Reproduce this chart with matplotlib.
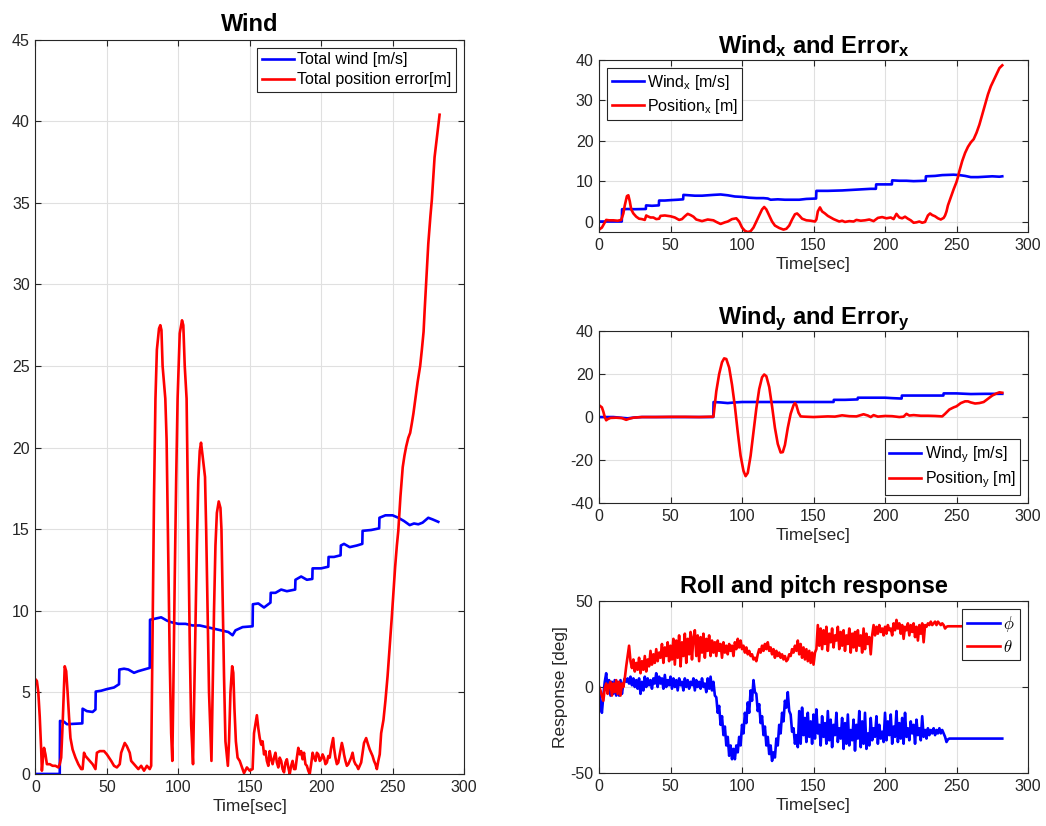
import numpy as np
import matplotlib
matplotlib.use("Agg")
import matplotlib.pyplot as plt
from matplotlib.font_manager import FontProperties

plt.rcParams['font.family'] = ['Liberation Sans', 'DejaVu Sans']
plt.rcParams['mathtext.fontset'] = 'custom'
plt.rcParams['mathtext.rm'] = 'Liberation Sans'
plt.rcParams['mathtext.it'] = 'Liberation Sans:italic'
plt.rcParams['mathtext.bf'] = 'Liberation Sans:bold'
plt.rcParams['axes.unicode_minus'] = False

# ---- data (time [s], value) ----
wind_total = np.array([
    (0, 0), (17, 0), (17.2, 3.25), (20, 3.2), (22, 3.05), (32.8, 3.1), (33, 4.0), (36, 3.85),
    (40, 3.8), (42, 3.95), (42.2, 5.05), (46, 5.1), (50, 5.2), (55, 5.3), (58.5, 5.5), (58.7, 6.4),
    (62, 6.45), (65, 6.4), (69, 6.2), (72, 6.3), (76, 6.4), (80, 6.5), (80.2, 9.45), (83, 9.5),
    (88, 9.6), (92, 9.4), (95, 9.3), (100, 9.2), (105, 9.2), (110, 9.1), (115, 9.1), (120, 9.0),
    (125, 8.9), (130, 8.8), (135, 8.7), (138, 8.5), (140, 8.8), (145, 9.0), (152, 9.05),
    (152.2, 10.4), (156, 10.45), (160, 10.2), (164.5, 10.5), (164.7, 11.1), (168, 11.1),
    (172, 11.3), (176, 11.2), (181.8, 11.3), (182, 11.9), (186, 12.1), (190, 11.9), (193.8, 11.95),
    (194, 12.6), (200, 12.6), (205, 12.7), (205.2, 13.3), (209, 13.3), (213.6, 13.4), (213.8, 14.0),
    (216, 14.1), (220, 13.9), (225, 14.0), (228.8, 14.1), (229, 14.9), (235, 14.95), (240.6, 15.05),
    (240.8, 15.7), (245, 15.85), (250, 15.85), (254, 15.7), (258, 15.5), (262, 15.25), (265, 15.35),
    (268, 15.3), (271, 15.4), (275, 15.7), (278, 15.6), (282, 15.45)])

error_total = np.array([
    (0, 5.8), (1, 5.7), (2, 5.0), (3, 3.5), (4, 1.5), (4.5, 0.2), (5.3, 1.0), (6, 1.6), (7, 1.2),
    (8, 0.6), (10, 0.6), (12, 0.5), (14, 0.5), (16, 0.4), (17, 0.6), (18, 1.0), (19, 3.0), (20, 5.5),
    (20.5, 6.6), (21.5, 6.3), (22.5, 5.0), (23.5, 3.5), (24.5, 2.2), (26, 1.5), (28, 1.0), (30, 0.6),
    (32, 0.3), (33, 0.3), (34, 1.3), (35, 1.1), (37, 0.9), (40, 0.6), (42, 0.3), (43, 1.3), (45, 1.4),
    (48, 1.4), (50, 1.2), (53, 0.8), (55, 0.5), (57, 0.4), (59, 0.6), (60, 1.3), (62.5, 1.9), (64, 1.7),
    (66, 1.3), (67, 0.8), (70, 0.5), (72, 0.3), (74, 0.5), (76, 0.2), (78, 0.5), (80, 0.3), (81, 0.5),
    (82, 9), (83, 17), (84, 23), (85, 26), (86.5, 27.3), (87.4, 27.5), (88.2, 27.2), (89, 25),
    (90.9, 23), (91.8, 20.5), (93, 13), (94, 7), (95, 2.5), (95.8, 0.8), (96.5, 5), (97.5, 12),
    (98.5, 18), (99.5, 23), (101, 27), (102.6, 27.8), (103.5, 27.5), (104.5, 25), (105.8, 23),
    (107, 15), (108, 8), (109, 3), (110.3, 0.6), (111, 4), (112, 9), (113, 14), (114, 18), (115, 19.8),
    (115.9, 20.3), (117, 19.5), (118.7, 18.2), (119.5, 15), (120.5, 10), (121.5, 5), (123.2, 0.8),
    (124, 5), (125, 10), (126, 14), (127, 16), (128.3, 16.7), (129.5, 16.3), (130.2, 15), (131, 11),
    (132, 6), (133, 2), (134.7, 0.5), (135.5, 2), (136.5, 5), (137.7, 6.6), (138.5, 6.2), (139.3, 4),
    (140.3, 2), (141.5, 1), (143, 0.8), (145, 0.3), (146, 0.05), (148, 0.4), (150, 0.2), (152, 0.3),
    (153, 2.5), (155, 3.6), (156, 2.8), (157, 2.2), (158, 1.8), (159, 2.0), (160, 1.2), (161, 1.4),
    (162, 0.8), (163, 0.5), (164, 1.4), (165, 0.9), (166, 0.6), (167, 1.0), (168, 1.3), (169, 0.7),
    (170, 0.4), (171, 1.0), (172, 0.8), (173, 0.3), (174, 0.1), (175, 0.7), (176, 0.9), (177, 0.4),
    (178, 0.0), (179, 0.5), (180, 0.8), (181, 0.3), (182, 0.3), (183, 1.0), (184, 1.6), (185, 1.2),
    (186, 1.4), (187, 0.9), (188, 1.3), (189, 0.6), (190, 0.5), (191, 0.2), (192, 0.0), (193, 0.6),
    (194, 1.3), (195, 1.0), (196, 0.8), (197, 1.3), (198, 1.2), (199, 0.8), (200, 0.9), (201, 1.2),
    (202, 1.0), (203, 0.6), (204, 0.7), (205, 1.1), (206, 1.0), (207, 1.6), (208.4, 2.2), (209, 1.6),
    (210, 1.0), (211, 0.6), (212, 0.7), (213, 1.2), (214.5, 1.9), (215.5, 1.5), (216, 1.2), (217, 0.8),
    (218, 0.5), (219, 0.6), (220, 0.8), (221, 1.0), (222, 1.3), (223, 0.8), (224, 0.6), (225, 0.5),
    (226, 0.3), (227, 0.5), (228, 0.7), (229, 1.3), (230, 1.9), (231.5, 2.2), (232.5, 1.9), (234, 1.5),
    (235, 1.3), (236, 1.1), (237, 0.8), (238, 0.6), (239, 0.3), (240, 0.8), (241, 1.2), (242, 2.5),
    (243.6, 3.3), (245, 4.5), (246.5, 6), (247, 6.6), (248, 7.8), (249.4, 9.55), (250.5, 11),
    (251.8, 12.7), (253, 14), (254, 14.9), (255.5, 17), (257.1, 18.8), (258.3, 19.5), (259.5, 20.06),
    (261, 20.6), (262.3, 20.9), (263.5, 21.5), (264.6, 22.1), (265.8, 22.9), (267.5, 24), (269.3, 25),
    (270.5, 26), (271.7, 27.1), (272.5, 28.5), (273.5, 30.1), (275, 32.5), (276.5, 34.2),
    (277.5, 35.2), (278.5, 36.6), (279.4, 37.8), (281, 39), (282.9, 40.4)])

wind_x = np.array([
    (0, 0), (15.9, 0), (16.1, 3.05), (20, 3.1), (25, 3.05), (32.7, 3.1), (32.9, 4.0), (37, 3.9),
    (41.8, 4.0), (42, 5.2), (46, 5.2), (50, 5.3), (55, 5.4), (58.8, 5.5), (59, 6.6), (63, 6.5),
    (67, 6.4), (72, 6.4), (76, 6.5), (80, 6.6), (85, 6.7), (90, 6.5), (95, 6.2), (100, 6.1),
    (105, 5.9), (110, 5.8), (115, 5.8), (118, 5.7), (120, 5.4), (125, 5.5), (130, 5.4), (140, 5.4),
    (145, 5.6), (151.8, 5.7), (152, 7.6), (160, 7.6), (170, 7.7), (180, 7.9), (190, 8.1),
    (193.6, 8.1), (193.8, 9.2), (200, 9.2), (204.8, 9.2), (205, 10.2), (210, 10.1), (215, 10.1),
    (220, 10.0), (228.4, 10.1), (228.6, 11.2), (235, 11.3), (240, 11.5), (248, 11.6), (252, 11.5),
    (256, 11.3), (260, 11.0), (265, 11.0), (270, 11.1), (275, 11.2), (280, 11.1), (282, 11.2)])

error_x = np.array([
    (0, -2.0), (2, -1.5), (4, -0.2), (5, 0.4), (7, 0.3), (10, 0.3), (13, 0.2), (15.5, 0.4), (17, 2.0),
    (18, 4.0), (19.5, 6.3), (20.5, 6.5), (21.5, 5.0), (22.5, 3.0), (24, 2.0), (26, 1.2), (28, 0.7),
    (30, 0.6), (32, 0.4), (33, 1.5), (34, 1.3), (36, 1.0), (38, 1.0), (40, 0.6), (42, 0.7), (43, 1.4),
    (46, 1.5), (50, 1.3), (53, 1.0), (56, 0.4), (58, 0.6), (60, 1.3), (62, 1.9), (64, 1.6), (66, 1.2),
    (68, 0.5), (72, 0.1), (76, 0.5), (80, 0.3), (82, -0.1), (85, -0.6), (88, -0.2), (90, 0.0),
    (93, 0.6), (96, 0.8), (98, 0.0), (100, -1.5), (102, -2.3), (104, -2.6), (106, -2.4), (108, -1.5),
    (110, 0.0), (112, 1.5), (114, 3.0), (115.5, 3.6), (117, 3.0), (119, 1.5), (121, 0.0), (123, -1.0),
    (126, -1.6), (129, -2.0), (131, -1.8), (133, -1.0), (135, 0.5), (137, 1.8), (138.5, 2.0),
    (140, 1.5), (142, 0.7), (145, 0.3), (148, 0.2), (151, 0.0), (152, 0.5), (153, 2.5), (154.5, 3.5),
    (156, 2.5), (158, 2.0), (160, 1.4), (162, 1.0), (164, 0.6), (166, 0.3), (168, 0.0), (170, 0.2),
    (172, -0.1), (175, 0.1), (178, 0.0), (180, 0.4), (183, 0.2), (186, 0.3), (189, 0.5), (192, 0.1),
    (195, 0.9), (198, 1.1), (201, 0.8), (204, 1.0), (206, 0.6), (208, 1.9), (210, 1.0), (212, 0.8),
    (214, 1.2), (216, 0.7), (218, 0.3), (220, -0.3), (222, -0.2), (224, 0.0), (226, -0.3),
    (228, -0.1), (230, 1.5), (231.5, 2.0), (233, 1.6), (235, 1.3), (237, 0.8), (239, 0.5), (241, 0.9),
    (242, 1.5), (243, 2.5), (244, 4.0), (246, 6.0), (248, 8.0), (250, 9.8), (251, 11), (252, 12.5),
    (254, 15), (256, 17), (258, 18.5), (260, 19.6), (262, 20.4), (264, 22), (266, 24), (268, 26.5),
    (270, 29), (272, 31.5), (274, 33.5), (276, 35), (278, 36.5), (280, 38), (282, 38.7)])

wind_y = np.array([
    (0, 0), (10, 0), (15, -0.3), (20, -0.6), (25, -0.2), (30, 0), (79.9, 0), (80.1, 7.0), (85, 6.8),
    (90, 6.5), (95, 6.8), (100, 7.0), (130, 7.0), (164, 7.0), (164.2, 8.0), (172, 8.0), (180.8, 8.2),
    (181, 9.0), (190, 9.0), (200, 9.0), (205, 8.8), (211.6, 8.6), (211.8, 10.0), (225, 10.0),
    (240.8, 10.0), (241, 11.0), (250, 11.0), (260, 10.7), (270, 10.8), (282, 10.8)])

error_y = np.array([
    (0, 5.5), (2, 4.5), (3, 2.5), (4, 0), (5, -1.5), (6, -1.0), (8, -0.4), (12, -0.3), (16, -0.5),
    (19, -1.3), (21, -0.8), (24, -0.3), (30, 0.0), (40, 0.0), (50, 0.1), (60, 0.1), (70, 0.0),
    (80, 0.2), (81, 6), (82, 12), (84, 20), (86, 25.5), (87.5, 27.3), (89, 27), (91, 23), (93, 15),
    (95, 5), (97, -7), (99, -18), (101, -25), (102.5, -27.5), (104, -26), (106, -18), (108, -7),
    (110, 4), (112, 13), (114, 18.5), (115.5, 19.8), (117, 19), (119, 14), (121, 5), (123, -5),
    (125, -12.5), (127, -16.5), (128.5, -16.3), (130, -13), (132, -5), (134, 1.5), (136, 5.5),
    (137, 6.5), (138, 5.5), (139.5, 2), (141, 0.3), (143, 0.2), (150, 0.0), (160, 0.3), (165, 0.2),
    (170, 0.8), (175, 0.4), (180, 0.3), (185, 1.3), (188, 0.7), (190, 0.0), (192, 0.9), (195, 0.2),
    (200, 0.5), (205, 0.4), (210, 0.0), (213, 0.2), (215, 1.5), (217, 0.7), (220, 0.9), (225, 0.6),
    (230, 0.6), (235, 0.5), (240, 0.3), (242, 1.5), (245, 3.5), (248, 4.5), (250, 5.0), (253, 6.5),
    (256, 7.3), (258, 7.3), (260, 6.8), (263, 6.3), (266, 6.5), (269, 7.0), (272, 8.5), (275, 10.0),
    (278, 11.0), (280, 11.5), (282, 11.3)])

# roll / pitch sampled every second up to 245 s, then held to 282 s
t_att = list(range(246)) + [282]
theta = [0, -2, -5, -8, -1, 2, -4, 1, 3, -5,
         2, -3, 4, -4, 3, -5, 2, 0, 5, 12,
         18, 24, 15, 11, 16, 9, 14, 10, 17, 8,
         15, 10, 18, 9, 16, 12, 21, 13, 19, 14,
         22, 15, 20, 17, 25, 14, 23, 18, 26, 15,
         24, 16, 28, 13, 27, 17, 30, 12, 26, 18,
         31, 14, 28, 19, 32, 16, 29, 33, 18, 30,
         15, 29, 20, 31, 17, 28, 21, 30, 18, 27,
         20, 26, 18, 27, 21, 25, 17, 26, 20, 24,
         19, 25, 21, 24, 18, 26, 22, 28, 23, 27,
         22, 24, 20, 23, 19, 21, 18, 19, 16, 17,
         15, 19, 22, 20, 24, 21, 25, 22, 26, 21,
         23, 19, 22, 17, 21, 18, 20, 17, 19, 16,
         18, 15, 16, 19, 18, 22, 20, 24, 21, 27,
         19, 25, 17, 23, 16, 22, 15, 21, 14, 20,
         13, 20, 22, 36, 24, 34, 22, 33, 25, 35,
         21, 31, 26, 34, 23, 30, 27, 35, 22, 32,
         24, 33, 21, 30, 25, 34, 20, 31, 23, 32,
         21, 33, 24, 30, 20, 34, 22, 31, 25, 29,
         19, 30, 36, 30, 35, 31, 36, 32, 34, 30,
         35, 31, 36, 33, 34, 30, 37, 33, 39, 34,
         37, 31, 36, 28, 35, 33, 37, 30, 36, 32,
         37, 29, 35, 27, 36, 31, 37, 26, 36, 35,
         37, 36, 38, 36, 37, 38, 36, 38, 37, 36,
         37, 36, 34, 35, 35.3, 35.3, 35.3]
phi = [0, -10, -15, -5, 3, 8, -2, 4, -5, 3,
       -4, 4, -5, 3, -5, 4, -4, 2, 5, 3,
       5, 2, 6, 1, 5, 0, 4, -1, 5, -4,
       3, -2, 6, 0, 5, 1, 4, -1, 5, 2,
       8, 0, 6, 2, 5, -1, 7, 0, 4, 1,
       6, -1, 5, 0, 4, -2, 5, 1, 3, -2,
       5, 0, 4, -1, 3, 1, 5, -2, 4, 0,
       3, -1, 5, 0, 2, -3, 5, -1, 6, -2,
       3, -5, -6, -15, -11, -22, -17, -28, -23, -34,
       -29, -40, -34, -42, -36, -42, -34, -38, -29, -34,
       -22, -27, -15, -21, -9, -15, -2, -8, 4, -3,
       -4, -14, -10, -21, -17, -28, -23, -34, -29, -39,
       -34, -43, -38, -41, -30, -34, -22, -27, -15, -20,
       -8, -12, -3, -14, -16, -26, -24, -33, -28, -35,
       -14, -33, -12, -28, -18, -32, -15, -29, -20, -33,
       -16, -30, -13, -27, -22, -34, -17, -29, -21, -33,
       -14, -31, -19, -35, -22, -28, -15, -32, -24, -30,
       -18, -36, -21, -33, -16, -34, -25, -31, -19, -37,
       -22, -30, -14, -35, -20, -33, -15, -36, -27, -34,
       -18, -31, -24, -29, -17, -33, -22, -30, -26, -32,
       -15, -31, -20, -28, -16, -33, -23, -29, -14, -32,
       -21, -30, -18, -33, -15, -29, -24, -31, -20, -27,
       -22, -33, -19, -28, -24, -31, -17, -29, -25, -30,
       -24, -28, -25, -27, -24, -28, -25, -27, -24, -27,
       -25, -27, -29, -32, -30.5, -30, -30]

BLUE = '#0000ff'
RED = '#ff0000'
DARK = '#262626'
LW = 1.9


def style(ax, ylim, yticks):
    ax.set_xlim(0, 300)
    ax.set_ylim(*ylim)
    ax.set_xticks(range(0, 301, 50))
    ax.set_yticks(yticks)
    ax.grid(True, color='#e0e0e0', linewidth=0.8)
    ax.set_axisbelow(True)
    ax.tick_params(direction='in', top=True, right=True, length=4.5, width=0.8,
                   labelsize=11.5, colors=DARK, pad=4)
    for s in ax.spines.values():
        s.set_color(DARK)
        s.set_linewidth(0.8)
    ax.set_xlabel('Time[sec]', fontsize=12.5, color=DARK, labelpad=3)


def legend(ax, **kw):
    leg = ax.legend(fancybox=False, framealpha=1, edgecolor=DARK, borderpad=0.3,
                    handlelength=2.0, handletextpad=0.2, labelspacing=0.3,
                    borderaxespad=0.5, **kw)
    leg.get_frame().set_linewidth(0.8)
    return leg


fig = plt.figure(figsize=(10.46, 8.26), dpi=100)

# left: totals
ax = fig.add_axes([0.0339, 0.063, 0.4097, 0.889])
ax.plot(wind_total[:, 0], wind_total[:, 1], color=BLUE, lw=LW, label='Total wind [m/s]')
ax.plot(error_total[:, 0], error_total[:, 1], color=RED, lw=LW, label='Total position error[m]')
style(ax, (0, 45), range(0, 46, 5))
ax.set_title('Wind', fontsize=17, fontweight='bold', pad=6)
legend(ax, loc='upper right', fontsize=11.5)

# right top: x components
ax = fig.add_axes([0.5727, 0.7191, 0.4101, 0.2082])
ax.plot(wind_x[:, 0], wind_x[:, 1], color=BLUE, lw=LW, label=r'Wind$_\mathregular{x}$ [m/s]')
ax.plot(error_x[:, 0], error_x[:, 1], color=RED, lw=LW, label=r'Position$_\mathregular{x}$ [m]')
style(ax, (-2.6, 40), range(0, 41, 10))
ax.set_title(r'Wind$_\mathbf{x}$ and Error$_\mathbf{x}$', fontsize=17, fontweight='bold', pad=5)
legend(ax, loc='upper left', fontsize=11.5)

# right middle: y components
ax = fig.add_axes([0.5727, 0.391, 0.4101, 0.2082])
ax.plot(wind_y[:, 0], wind_y[:, 1], color=BLUE, lw=LW, label=r'Wind$_\mathregular{y}$ [m/s]')
ax.plot(error_y[:, 0], error_y[:, 1], color=RED, lw=LW, label=r'Position$_\mathregular{y}$ [m]')
style(ax, (-40, 40), range(-40, 41, 20))
ax.set_title(r'Wind$_\mathbf{y}$ and Error$_\mathbf{y}$', fontsize=17, fontweight='bold', pad=5)
legend(ax, loc='lower right', fontsize=11.5)

# right bottom: attitude
ax = fig.add_axes([0.5727, 0.0642, 0.4101, 0.2082])
ax.plot(t_att, phi, color=BLUE, lw=LW, label=r'$\phi$')
ax.plot(t_att, theta, color=RED, lw=LW, label=r'$\theta$')
style(ax, (-50, 50), range(-50, 51, 50))
ax.set_title('Roll and pitch response', fontsize=17, fontweight='bold', pad=6)
ax.set_ylabel('Response [deg]', fontsize=12.5, color=DARK, labelpad=2)
legend(ax, loc='upper right', prop=FontProperties(size=12, math_fontfamily='cm'))

fig.savefig('out.png', dpi=100)
